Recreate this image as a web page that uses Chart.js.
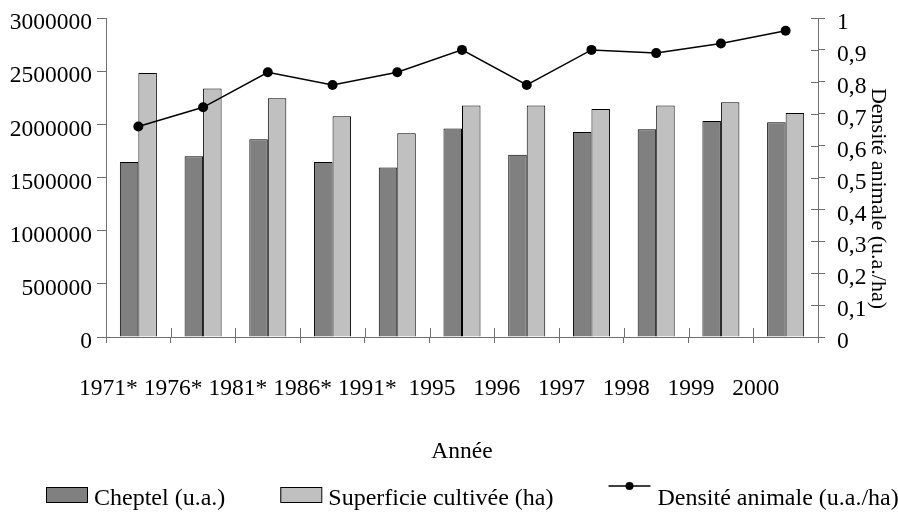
<!DOCTYPE html>
<html>
<head>
<meta charset="utf-8">
<script src="https://cdn.jsdelivr.net/npm/chart.js@4/dist/chart.umd.min.js"></script>
<style>
  html, body { margin: 0; padding: 0; background: #ffffff; }
</style>
</head>
<body>
<canvas id="chart" width="898" height="512"></canvas>
<script>
// values
const years = ["1971*", "1976*", "1981*", "1986*", "1991*", "1995", "1996", "1997", "1998", "1999", "2000"];
const cheptel = [1645000, 1700000, 1860000, 1645000, 1595000, 1960000, 1713000, 1928000, 1953000, 2032000, 2019000];
const superficie = [2483000, 2338000, 2246000, 2076000, 1915000, 2177000, 2177000, 2145000, 2177000, 2208000, 2107000];
const densite = [0.66, 0.72, 0.83, 0.79, 0.83, 0.90, 0.79, 0.90, 0.89, 0.92, 0.96];

const leftTicks = ["0", "500000", "1000000", "1500000", "2000000", "2500000", "3000000"];
const rightTicks = ["0", "0,1", "0,2", "0,3", "0,4", "0,5", "0,6", "0,7", "0,8", "0,9", "1"];

const xTitle = "Année";
const rightTitle = "Densité animale (u.a./ha)";

const serif = '"Liberation Serif", "Times New Roman", serif';
const axisGrey = "#707070";

Chart.defaults.font.family = serif;
Chart.defaults.font.size = 23.5;
Chart.defaults.color = "#000000";

// the little tick marks that poke into the plot area
const innerTicks = {
  id: "innerTicks",
  afterDraw(chart) {
    const { ctx, chartArea, scales } = chart;
    ctx.save();
    ctx.strokeStyle = axisGrey;
    ctx.lineWidth = 1;
    ctx.beginPath();
    const y1 = scales.y1;
    y1.ticks.forEach((t, i) => {
      const y = Math.round(y1.getPixelForTick(i)) + 0.5;
      ctx.moveTo(chartArea.right - 7, y);
      ctx.lineTo(chartArea.right, y);
    });
    const x = scales.x;
    for (let i = 0; i <= years.length; i++) {
      const px = Math.round(x.getPixelForValue(i - 0.5)) + 0.5;
      ctx.moveTo(px, chartArea.bottom - 9);
      ctx.lineTo(px, chartArea.bottom);
    }
    ctx.stroke();
    ctx.restore();
  },
};

// right axis title, sits a bit below the middle like in the original
const rightAxisTitle = {
  id: "rightAxisTitle",
  afterDraw(chart) {
    const { ctx, chartArea } = chart;
    ctx.save();
    ctx.font = "22px " + serif;
    ctx.fillStyle = "#000000";
    ctx.textAlign = "center";
    ctx.textBaseline = "middle";
    ctx.translate(chart.scales.y1.right - 20, (chartArea.top + chartArea.bottom) / 2 + 21);
    ctx.rotate(Math.PI / 2);
    ctx.fillText(rightTitle, 0, 0);
    ctx.restore();
  },
};

// legend in one row along the bottom
const bottomLegend = {
  id: "bottomLegend",
  afterDraw(chart) {
    const ctx = chart.ctx;
    ctx.save();
    ctx.font = "24px " + serif;
    ctx.textBaseline = "alphabetic";
    let x = 46;
    const base = 505;
    chart.data.datasets.forEach((ds) => {
      let w;
      if (ds.type === "line") {
        w = 42;
        ctx.strokeStyle = ds.borderColor;
        ctx.lineWidth = 1.5;
        ctx.beginPath();
        ctx.moveTo(x, base - 19);
        ctx.lineTo(x + w, base - 19);
        ctx.stroke();
        ctx.fillStyle = ds.pointBackgroundColor;
        ctx.beginPath();
        ctx.arc(x + w / 2, base - 19, 4, 0, Math.PI * 2);
        ctx.fill();
      } else {
        w = 41;
        ctx.fillStyle = ds.backgroundColor;
        ctx.fillRect(x, base - 18, w, 15);
        ctx.strokeStyle = ds.borderColor;
        ctx.lineWidth = 1;
        ctx.strokeRect(x + 0.5, base - 17.5, w, 15);
      }
      ctx.fillStyle = "#000000";
      ctx.fillText(ds.label, x + w + 7, base);
      x += w + 7 + ctx.measureText(ds.label).width + 55;
    });
    ctx.restore();
  },
};

const fitY = (width) => (s) => {
  s.width = width;
  s.paddingTop = 0;
  s.paddingBottom = 0;
};

const chart = new Chart(document.querySelector("#chart"), {
  type: "bar",
  data: {
    labels: years,
    datasets: [
      {
        label: "Cheptel (u.a.)",
        data: cheptel,
        backgroundColor: "#808080",
        borderColor: "#000000",
        borderWidth: 1,
        categoryPercentage: 0.572,
        barPercentage: 1,
        yAxisID: "y",
        order: 1,
      },
      {
        label: "Superficie cultivée (ha)",
        data: superficie,
        backgroundColor: "#c0c0c0",
        borderColor: "#000000",
        borderWidth: 1,
        categoryPercentage: 0.572,
        barPercentage: 1,
        yAxisID: "y",
        order: 1,
      },
      {
        type: "line",
        label: "Densité animale (u.a./ha)",
        data: densite,
        borderColor: "#000000",
        borderWidth: 1.5,
        pointRadius: 5,
        pointBackgroundColor: "#000000",
        pointBorderWidth: 0,
        tension: 0,
        yAxisID: "y1",
        order: 0,
      },
    ],
  },
  options: {
    responsive: false,
    animation: false,
    layout: { padding: { top: 18, left: 0, right: 0, bottom: 40 } },
    plugins: {
      legend: { display: false },
      tooltip: { enabled: false },
    },
    scales: {
      x: {
        offset: true,
        grid: { drawOnChartArea: false, offset: true, tickLength: 6, color: axisGrey },
        border: { color: axisGrey },
        ticks: { padding: 32, labelOffset: -30, maxRotation: 0, autoSkip: false },
        title: { display: true, text: xTitle, padding: { top: 0, bottom: 6 } },
        afterFit: (s) => { s.height = 135; s.paddingLeft = 0; s.paddingRight = 0; },
      },
      y: {
        position: "left",
        min: 0,
        max: 3000000,
        grid: { drawOnChartArea: false, tickLength: 9, color: axisGrey },
        border: { color: axisGrey },
        ticks: { stepSize: 500000, padding: 5, labelOffset: 5, autoSkip: false, callback: (v, i) => leftTicks[i] },
        afterFit: fitY(106),
      },
      y1: {
        position: "right",
        min: 0,
        max: 1,
        grid: { drawOnChartArea: false, tickLength: 7, color: axisGrey },
        border: { color: axisGrey },
        ticks: { stepSize: 0.1, padding: 12, labelOffset: 5, autoSkip: false, callback: (v, i) => rightTicks[i] },
        afterFit: fitY(80),
      },
    },
  },
  plugins: [innerTicks, rightAxisTitle, bottomLegend],
});
</script>
</body>
</html>
